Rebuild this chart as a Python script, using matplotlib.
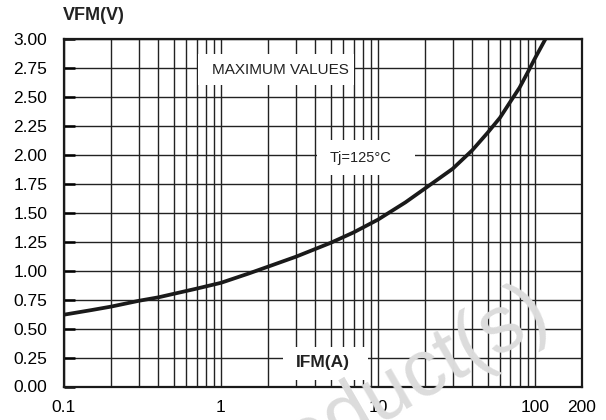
import matplotlib
matplotlib.use("Agg")
import matplotlib.pyplot as plt
from matplotlib.ticker import FixedLocator, NullFormatter, LogLocator
from matplotlib.patches import Rectangle
from matplotlib import font_manager

plt.rcParams['font.family'] = ['Liberation Sans', 'DejaVu Sans']

# Data
ifm = [0.1, 0.15, 0.2, 0.3, 0.4, 0.5, 0.7, 1, 1.5, 2, 3, 5, 7, 10, 15, 20, 30,
       40, 50, 60, 70, 80, 90, 100, 117]
vfm = [0.62, 0.66, 0.69, 0.74, 0.77, 0.80, 0.845, 0.895, 0.975, 1.035, 1.12, 1.24,
       1.33, 1.44, 1.59, 1.71, 1.88, 2.04, 2.19, 2.32, 2.46, 2.58, 2.71, 2.83, 3.00]

x_ticks = [0.1, 1, 10, 100, 200]
x_labels = ["0.1", "1", "10", "100", "200"]
y_ticks = [0, 0.25, 0.5, 0.75, 1.0, 1.25, 1.5, 1.75, 2.0, 2.25, 2.5, 2.75, 3.0]
y_labels = ["%.2f" % v for v in y_ticks]

names = {f.name for f in font_manager.fontManager.ttflist}
wm_family = ['Liberation Sans Narrow'] if 'Liberation Sans Narrow' in names else ['Liberation Sans']

fig = plt.figure(figsize=(6.06, 4.2), dpi=100)
fig.patch.set_facecolor('white')

# watermark (behind the axes)
fig.text(553 / 606, 1 - 324 / 420, "Obsolete Product(s)", fontsize=58,
         family=wm_family, color='#dcdcdc', rotation=30, rotation_mode='anchor',
         ha='right', va='baseline', zorder=0)

ax = fig.add_axes([64 / 606, 1 - 386.5 / 420, 518 / 606, 347.5 / 420])
ax.set_facecolor('none')
ax.set_xscale('log')
ax.set_xlim(0.1, 200)
ax.set_ylim(0, 3)

ax.xaxis.set_major_locator(FixedLocator(x_ticks))
ax.set_xticklabels(x_labels)
ax.xaxis.set_minor_locator(LogLocator(base=10, subs=[2, 3, 4, 5, 6, 7, 8, 9], numticks=20))
ax.xaxis.set_minor_formatter(NullFormatter())
ax.set_yticks(y_ticks)
ax.set_yticklabels(y_labels)

grid_kw = dict(color='#222222', linewidth=1.0)
ax.grid(True, which='both', axis='x', **grid_kw)
ax.grid(True, which='major', axis='y', **grid_kw)
ax.set_axisbelow(True)

ax.tick_params(axis='x', which='both', length=0, pad=10, labelsize=12.5)
ax.tick_params(axis='y', which='major', direction='in', length=8, width=1.8,
               pad=12, labelsize=12.5)
for s in ax.spines.values():
    s.set_linewidth(1.6)
    s.set_color('#1a1a1a')

# white label boxes
for (x0, y0, w, h) in [(0.259, 0.868, 0.301, 0.089),
                       (0.488, 0.609, 0.190, 0.100),
                       (0.423, 0.019, 0.164, 0.095)]:
    ax.add_patch(Rectangle((x0, y0), w, h, transform=ax.transAxes,
                           facecolor='white', edgecolor='none', zorder=2))

ax.plot(ifm, vfm, color='#1a1a1a', linewidth=2.7, zorder=3,
        solid_capstyle='butt', solid_joinstyle='round')

ax.text(0.418, 0.911, "MAXIMUM VALUES", transform=ax.transAxes, fontsize=11,
        ha='center', va='center', color='#222222', zorder=4)
ax.text(0.572, 0.658, "Tj=125°C", transform=ax.transAxes, fontsize=10.5,
        ha='center', va='center', color='#222222', zorder=4)
ax.text(0.5, 0.068, "IFM(A)", transform=ax.transAxes, fontsize=12.5,
        fontweight='bold', ha='center', va='center', color='#222222', zorder=4)

fig.text(63 / 606, 1 - 16 / 420, "VFM(V)", fontsize=13, fontweight='bold',
         ha='left', va='center', color='#222222')

fig.savefig("out.png", dpi=100, facecolor='white')
